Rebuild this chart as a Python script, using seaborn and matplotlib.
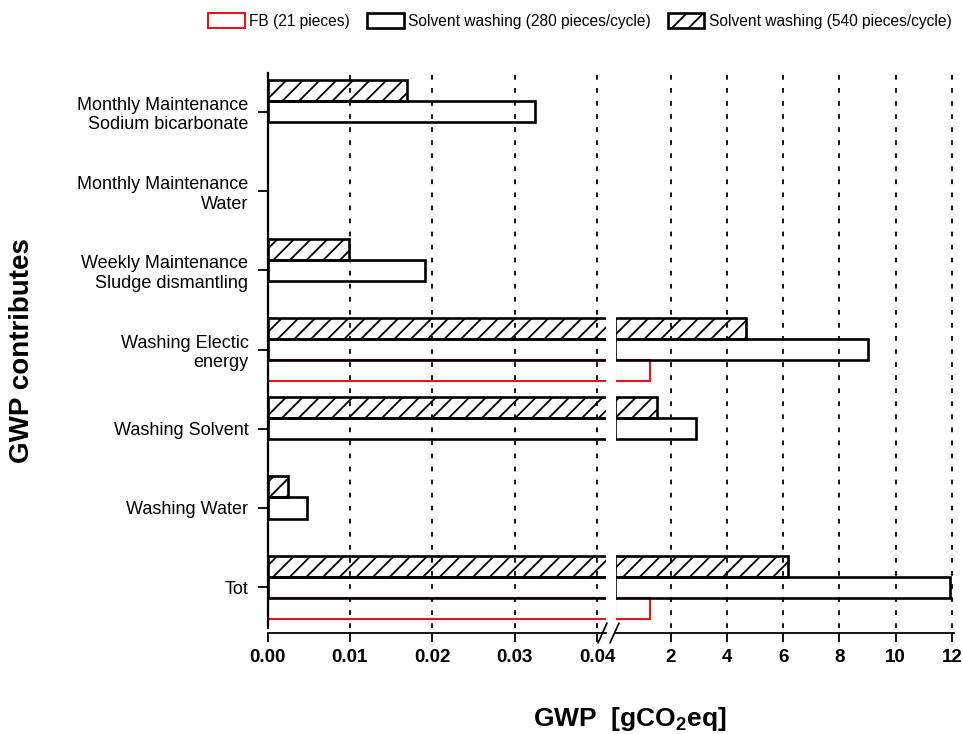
import matplotlib
matplotlib.use("Agg")
import matplotlib.pyplot as plt
import matplotlib.colors as mcolors
from matplotlib.patches import Patch
from matplotlib.lines import Line2D
import pandas as pd
import seaborn as sns

# ---------------- data ----------------
categories = [
    "Monthly Maintenance\nSodium bicarbonate",
    "Monthly Maintenance\nWater",
    "Weekly Maintenance\nSludge dismantling",
    "Washing Electic\nenergy",
    "Washing Solvent",
    "Washing Water",
    "Tot",
]
series_names = [
    "Solvent washing (540 pieces/cycle)",
    "Solvent washing (280 pieces/cycle)",
    "FB (21 pieces)",
]
sw540 = [0.0169, None, 0.0099, 4.66, 1.49, 0.00245, 6.18]
sw280 = [0.0325, None, 0.0191, 9.00, 2.88, 0.00475, 11.92]
fb21 = [None, None, None, 1.25, None, None, 1.25]

left_ticks = [0.0, 0.01, 0.02, 0.03, 0.04]
left_ticklabels = ["0.00", "0.01", "0.02", "0.03", "0.04"]
right_ticks = [2, 4, 6, 8, 10, 12]
right_ticklabels = ["2", "4", "6", "8", "10", "12"]

rows = []
for name, vals in zip(series_names, [sw540, sw280, fb21]):
    for c, v in zip(categories, vals):
        if v is not None:
            rows.append({"category": c, "series": name, "GWP": v})
df = pd.DataFrame(rows)

# ---------------- style ----------------
sns.set_style("ticks")
plt.rcParams["font.family"] = ["Liberation Sans", "DejaVu Sans"]
plt.rcParams["mathtext.fontset"] = "custom"
plt.rcParams["mathtext.rm"] = "Liberation Sans"
plt.rcParams["mathtext.bf"] = "Liberation Sans:bold"
plt.rcParams["hatch.linewidth"] = 1.3
plt.rcParams["lines.scale_dashes"] = False
for k in ("text.color", "axes.labelcolor", "xtick.color", "ytick.color",
          "axes.edgecolor"):
    plt.rcParams[k] = "black"

W, H = 963, 734
fig = plt.figure(figsize=(W / 100, H / 100), dpi=100)


def fx(px):
    return px / W


def fy(py):
    return 1 - py / H


top_px, bot_px = 73, 628
axL = fig.add_axes([fx(267.5), fy(bot_px), fx(606) - fx(267.5), (bot_px - top_px) / H])
axR = fig.add_axes([fx(616), fy(bot_px), fx(954) - fx(616), (bot_px - top_px) / H])

palette = {series_names[0]: "#0000ff", series_names[1]: "#00ff00", series_names[2]: "#ff0000"}
styles = {
    "#0000ff": dict(edgecolor="black", hatch="//", lw=1.9, z=2.0),
    "#00ff00": dict(edgecolor="black", hatch=None, lw=1.9, z=2.1),
    "#ff0000": dict(edgecolor="#e3161c", hatch=None, lw=1.5, z=1.5),
}

xlims = {axL: (0, 0.0411), axR: (0.04, 12.08)}

for ax in (axL, axR):
    sns.barplot(
        data=df, x="GWP", y="category", hue="series",
        order=categories, hue_order=series_names, palette=palette,
        orient="y", width=0.8, gap=0, errorbar=None, legend=False,
        saturation=1, ax=ax,
    )
    lo = xlims[ax][0]
    for p in ax.patches:
        key = mcolors.to_hex(p.get_facecolor())
        st = styles.get(key)
        if st is None:
            continue
        p.set_facecolor("none")
        p.set_edgecolor(st["edgecolor"])
        p.set_linewidth(st["lw"])
        if st["hatch"]:
            p.set_hatch(st["hatch"])
        p.set_zorder(st["z"])
        # bars that end before this panel starts are not shown in it
        if p.get_x() + p.get_width() <= lo * 3 and lo > 0:
            p.set_visible(False)
    ax.set_xlim(*xlims[ax])
    ax.set_ylim(6.515, -0.49)
    ax.set_xlabel("")
    ax.set_ylabel("")
    ax.grid(axis="x", color="black", linestyle=(0, (3.4, 6.0)), linewidth=1.3)
    ax.grid(axis="y", visible=False)
    ax.set_axisbelow(True)
    ax.spines["top"].set_visible(False)
    ax.spines["right"].set_visible(False)
    ax.spines["bottom"].set_position(("outward", 3.6))
    ax.spines["bottom"].set_linewidth(1.3)
    ax.tick_params(axis="x", direction="out", length=6.5, width=1.3, pad=5,
                   labelsize=13.5, color="black")

axL.set_xticks(left_ticks, left_ticklabels, fontweight="bold")
axL.spines["left"].set_linewidth(1.6)
axL.tick_params(axis="y", direction="out", length=7.2, width=1.3, pad=6.5,
                labelsize=13)

axR.set_xticks(right_ticks, right_ticklabels, fontweight="bold")
axR.spines["left"].set_visible(False)
axR.tick_params(axis="y", left=False, labelleft=False)

# axis break marks
for x0 in (598, 610):
    fig.add_artist(Line2D([fx(x0), fx(x0 + 9)], [fy(643), fy(623)],
                          transform=fig.transFigure, color="black", lw=1.2))

# axis titles
fig.text(fx(22), fy(351), "GWP contributes", rotation=90, fontsize=20,
         fontweight="bold", ha="center", va="center")
fig.text(fx(630), fy(719), r"GWP  [gCO$_{\mathbf{2}}$eq]", fontsize=19,
         fontweight="bold", ha="center", va="center")

# legend
handles = [
    Patch(facecolor="none", edgecolor="#e3161c", lw=1.5),
    Patch(facecolor="none", edgecolor="black", lw=1.9),
    Patch(facecolor="none", edgecolor="black", lw=1.9, hatch="//"),
]
labels = [series_names[2], series_names[1], series_names[0]]
fig.legend(handles, labels, loc="center", bbox_to_anchor=(fx(580), fy(21)),
           ncol=3, frameon=False, fontsize=11.2, handlelength=2.35,
           handleheight=1.15, handletextpad=0.28, columnspacing=1.1,
           borderaxespad=0)

fig.savefig("out.png", dpi=100)
